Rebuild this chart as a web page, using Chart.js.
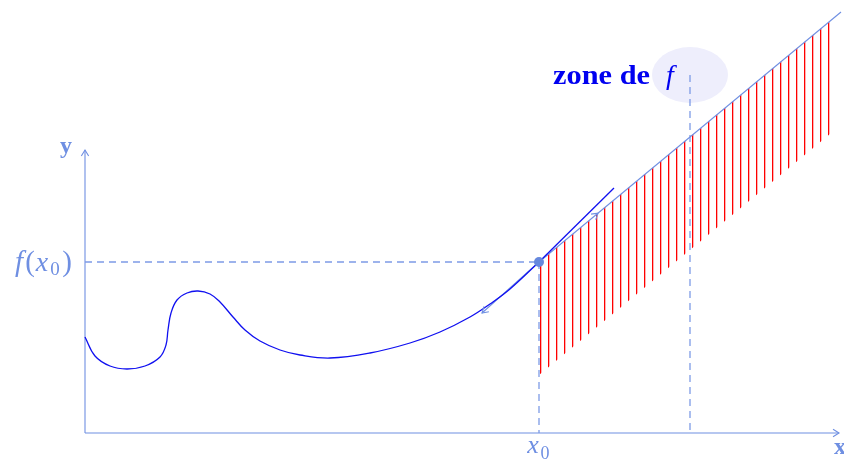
<!DOCTYPE html>
<html>
<head>
<meta charset="utf-8">
<script src="https://cdn.jsdelivr.net/npm/chart.js@4.4.1/dist/chart.umd.min.js"></script>
<style>
  html, body { margin: 0; padding: 0; background: #fff; }
  #wrap { width: 844px; height: 461px; }
</style>
</head>
<body>
<div id="wrap"><canvas id="chart" width="844" height="461"></canvas></div>
<script>
// courbe de f (unités du repère)
const curveX = [0, 0.2, 0.5, 0.84, 1.2, 1.5, 1.62, 1.66, 1.72, 1.84, 2.04, 2.26, 2.5, 2.7, 2.96, 3.2, 3.5, 3.9, 4.3, 4.9, 5.7, 6.5, 7.1, 7.7, 8.1, 8.5, 9.08];
const curveY = [1.92, 1.54, 1.34, 1.28, 1.34, 1.52, 1.76, 2.06, 2.4, 2.66, 2.8, 2.84, 2.78, 2.62, 2.32, 2.06, 1.84, 1.66, 1.56, 1.5, 1.6, 1.8, 2.02, 2.32, 2.58, 2.88, 3.42];

// point x0 et demi-tangente
const x0 = 9.08;
const fx0 = 3.42;
const tangentX = [9.08, 10.58];
const tangentY = [3.42, 4.9];

// droite bleu clair et zone hachurée
const upperX = [9.08, 15.12];
const upperY = [3.42, 8.42];
const backX = [9.08, 7.94];
const backY = [3.42, 2.4];
const hatchX = [9.08, 15.02];
const hatchTop = [3.42, 8.34];
const hatchBottom = [1.16, 6.08];

// pointillé vertical de la zone
const zoneX = 12.1;
const zoneTop = 7.16;

// axes
const axisXEnd = 15.08;
const axisYEnd = 5.66;

// textes
const axisLabels = ['x', 'y'];
const tickLabelX = 'x';
const tickLabelSub = '0';
const zoneLabel = 'zone de';
const zoneLabelVar = 'f';

const colors = {
    axis: '#6f8fe2',
    dash: '#7d9be6',
    curve: '#1010f0',
    light: '#6f8fe2',
    dot: '#6688dd',
    red: '#ff0000',
    zone: '#0000f0',
    ellipse: '#eeeefc'
};

const pts = (xs, ys) => xs.map((x, i) => ({ x: x, y: ys[i] }));

// motif de hachures verticales (pas de 8 px)
const pat = document.createElement('canvas');
pat.width = 8; pat.height = 8;
const pctx = pat.getContext('2d');
pctx.fillStyle = colors.red;
pctx.fillRect(4, 0, 1, 8);
pctx.fillStyle = 'rgba(255,0,0,0.3)';
pctx.fillRect(5, 0, 1, 8);
const hatchPattern = pctx.createPattern(pat, 'repeat');

function arrowHead(ctx, x, y, ang, color) {
    const len = 7, spread = 0.55;
    ctx.save();
    ctx.strokeStyle = color;
    ctx.lineWidth = 1.1;
    ctx.beginPath();
    ctx.moveTo(x - len * Math.cos(ang - spread), y - len * Math.sin(ang - spread));
    ctx.lineTo(x, y);
    ctx.lineTo(x - len * Math.cos(ang + spread), y - len * Math.sin(ang + spread));
    ctx.stroke();
    ctx.restore();
}

function txt(ctx, s, x, y, font, color, align) {
    ctx.font = font;
    ctx.fillStyle = color;
    ctx.textAlign = align || 'center';
    ctx.textBaseline = 'alphabetic';
    ctx.fillText(s, x, y);
}

const decor = {
    id: 'decor',
    beforeDatasetsDraw(chart) {
        const { ctx, scales: { x, y } } = chart;
        const cx = x.getPixelForValue(zoneX), cy = y.getPixelForValue(zoneTop);
        ctx.save();
        ctx.fillStyle = colors.ellipse;
        ctx.beginPath();
        ctx.ellipse(cx, cy, 38, 28, 0, 0, Math.PI * 2);
        ctx.fill();
        ctx.restore();
    },
    afterDatasetsDraw(chart) {
        const { ctx, scales: { x, y } } = chart;
        const X = v => x.getPixelForValue(v), Y = v => y.getPixelForValue(v);
        ctx.save();
        // flèches des axes
        arrowHead(ctx, X(axisXEnd), Y(0), 0, colors.axis);
        arrowHead(ctx, X(0), Y(axisYEnd), -Math.PI / 2, colors.axis);
        // flèches sur les demi-droites
        const a1 = Math.atan2(Y(backY[1]) - Y(backY[0]), X(backX[1]) - X(backX[0]));
        arrowHead(ctx, X(backX[1]), Y(backY[1]), a1, colors.light);
        const a2 = Math.atan2(Y(upperY[1]) - Y(upperY[0]), X(upperX[1]) - X(upperX[0]));
        const tx = 10.26, ty = upperY[0] + (tx - upperX[0]) * (upperY[1] - upperY[0]) / (upperX[1] - upperX[0]);
        arrowHead(ctx, X(tx), Y(ty), a2, colors.light);

        // étiquettes des axes
        txt(ctx, axisLabels[1], X(0) - 19, Y(axisYEnd) + 3, 'bold 24px "Liberation Serif"', colors.axis);
        txt(ctx, axisLabels[0], X(axisXEnd) + 1, Y(0) + 21, 'bold 24px "Liberation Serif"', colors.axis);

        // x0 sous l'axe
        const px0 = X(x0);
        txt(ctx, tickLabelX, px0 - 6, Y(0) + 20, 'italic 26px "Liberation Serif"', colors.axis);
        txt(ctx, tickLabelSub, px0 + 6, Y(0) + 26, '18px "Liberation Serif"', colors.axis);

        // f(x0) à gauche
        const py0 = Y(fx0);
        txt(ctx, 'f', 19, py0 + 9, 'italic 29px "Liberation Serif"', colors.axis);
        txt(ctx, '(', 30, py0 + 9, '29px "Liberation Serif"', colors.axis);
        txt(ctx, tickLabelX, 42, py0 + 9, 'italic 28px "Liberation Serif"', colors.axis);
        txt(ctx, tickLabelSub, 55, py0 + 13, '19px "Liberation Serif"', colors.axis);
        txt(ctx, ')', 67, py0 + 9, '29px "Liberation Serif"', colors.axis);

        // zone de f
        const zy = Y(zoneTop) + 9;
        ctx.font = 'bold 28px "Liberation Serif"';
        const w = ctx.measureText(zoneLabel).width;
        ctx.save();
        ctx.translate(553, zy);
        ctx.scale(97 / w, 1);
        txt(ctx, zoneLabel, 0, 0, 'bold 28px "Liberation Serif"', colors.zone, 'left');
        ctx.restore();
        txt(ctx, zoneLabelVar, 670, zy, 'italic 28px "Liberation Serif"', colors.zone);
        ctx.restore();
    }
};

new Chart(document.getElementById('chart'), {
    type: 'scatter',
    data: {
        datasets: [
            // point x0
            { data: [{ x: x0, y: fx0 }], pointRadius: 5, pointBackgroundColor: colors.dot, pointBorderWidth: 0, order: 0 },
            // courbe
            { data: pts(curveX, curveY), showLine: true, borderColor: colors.curve, borderWidth: 1.3, pointRadius: 0, tension: 0.4, order: 1 },
            { data: pts(tangentX, tangentY), showLine: true, borderColor: colors.curve, borderWidth: 1.3, pointRadius: 0, order: 1 },
            // droites bleu clair
            { data: pts(upperX, upperY), showLine: true, borderColor: colors.light, borderWidth: 1.1, pointRadius: 0, order: 2 },
            { data: pts(backX, backY), showLine: true, borderColor: colors.light, borderWidth: 1.1, pointRadius: 0, order: 2 },
            // pointillés
            { data: [{ x: 0, y: fx0 }, { x: x0, y: fx0 }], showLine: true, borderColor: colors.dash, borderWidth: 1.3, borderDash: [7, 5], pointRadius: 0, order: 3 },
            { data: [{ x: x0, y: fx0 }, { x: x0, y: 0 }], showLine: true, borderColor: colors.dash, borderWidth: 1.3, borderDash: [7, 5], pointRadius: 0, order: 3 },
            { data: [{ x: zoneX, y: zoneTop }, { x: zoneX, y: 0 }], showLine: true, borderColor: colors.dash, borderWidth: 1.3, borderDash: [7, 5], pointRadius: 0, order: 3 },
            // axes
            { data: [{ x: 0, y: 0 }, { x: axisXEnd, y: 0 }], showLine: true, borderColor: colors.axis, borderWidth: 1.1, pointRadius: 0, order: 4 },
            { data: [{ x: 0, y: 0 }, { x: 0, y: axisYEnd }], showLine: true, borderColor: colors.axis, borderWidth: 1.1, pointRadius: 0, order: 4 },
            // hachures entre les deux droites
            { data: pts(hatchX, hatchTop), showLine: true, borderWidth: 0, borderColor: 'rgba(0,0,0,0)', pointRadius: 0, fill: '+1', backgroundColor: hatchPattern, order: 5 },
            { data: pts(hatchX, hatchBottom), showLine: true, borderWidth: 0, borderColor: 'rgba(0,0,0,0)', pointRadius: 0, order: 5 }
        ]
    },
    options: {
        responsive: false,
        animation: false,
        devicePixelRatio: 1,
        layout: { padding: 0, autoPadding: false },
        plugins: { legend: { display: false }, tooltip: { enabled: false } },
        events: [],
        scales: {
            x: { type: 'linear', min: -1.7, max: 15.18, display: false },
            y: { type: 'linear', min: -0.56, max: 8.66, display: false }
        }
    },
    plugins: [decor]
});
</script>
</body>
</html>
